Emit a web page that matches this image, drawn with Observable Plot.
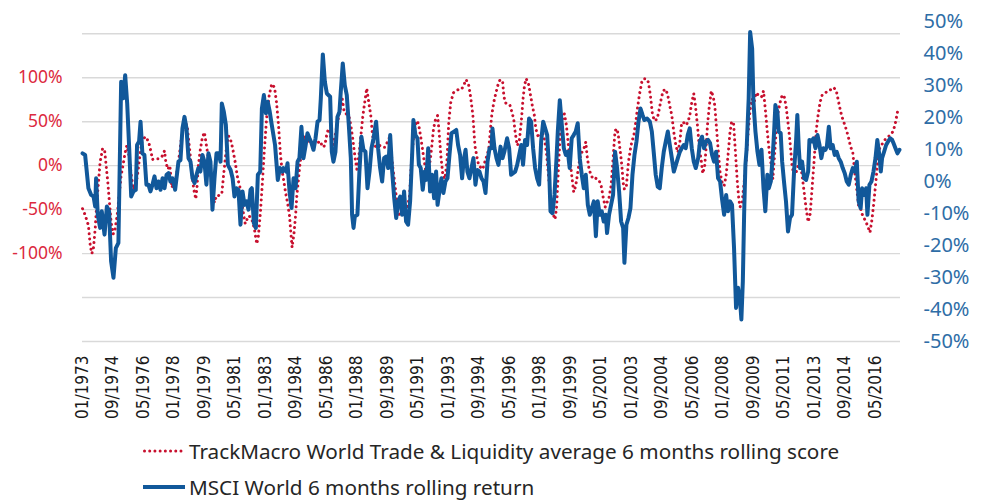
<!DOCTYPE html>
<html><head><meta charset="utf-8">
<script src="https://cdn.jsdelivr.net/npm/d3@7"></script>
<script src="https://cdn.jsdelivr.net/npm/@observablehq/plot@0.6"></script>
<style>
html,body{margin:0;padding:0;background:#fff;}
#wrap{position:relative;width:989px;height:502px;overflow:hidden;}
#wrap > svg{position:absolute;left:0;top:0;}
.legend{position:absolute;left:143px;font-family:"Noto Sans",sans-serif;font-size:20.7px;color:#262626;display:flex;align-items:center;height:30px;white-space:nowrap;}
.legend svg{margin-right:4px;}
</style></head><body><div id="wrap"></div><script>
// x tick labels
const xTickLabels = ["01/1973","09/1974","05/1976","01/1978","09/1979","05/1981","01/1983","09/1984","05/1986","01/1988","09/1989","05/1991","01/1993","09/1994","05/1996","01/1998","09/1999","05/2001","01/2003","09/2004","05/2006","01/2008","09/2009","05/2011","01/2013","09/2014","05/2016"];
const leftTicks = [-100, -50, 0, 50, 100];
const leftGrid = [-200, -150, -100, -50, 0, 50, 100, 150];
const rightTicks = [-50, -40, -30, -20, -10, 0, 10, 20, 30, 40, 50];
const seriesNames = ["TrackMacro World Trade & Liquidity average 6 months rolling score", "MSCI World 6 months rolling return"];

// TrackMacro score (left axis, %), [decimal year, value]
const trackScore = [
[1973.02,-49],[1973.16,-56],[1973.34,-68],[1973.44,-91],[1973.53,-100],[1973.62,-93],[1973.71,-72],[1973.80,-42],[1973.89,-19],[1973.98,4],[1974.11,19],[1974.22,19],[1974.29,4],[1974.40,-19],[1974.49,-42],[1974.58,-64],[1974.69,-78],[1974.80,-72],[1974.91,-57],[1975.02,-34],[1975.13,-11],[1975.26,4],[1975.35,15],[1975.44,23],[1975.53,15],[1975.62,0],[1975.71,-15],[1975.80,-27],[1975.93,-23],[1976.04,-8],[1976.15,11],[1976.26,27],[1976.44,33],[1976.62,28],[1976.77,15],[1976.84,7],[1976.99,8],[1977.17,8],[1977.35,10],[1977.50,17],[1977.57,4],[1977.68,-4],[1977.79,0],[1977.90,-25],[1978.01,-19],[1978.12,-15],[1978.26,4],[1978.35,19],[1978.44,34],[1978.59,49],[1978.74,46],[1978.81,30],[1978.89,15],[1978.99,-8],[1979.10,-27],[1979.21,-38],[1979.28,-23],[1979.35,0],[1979.46,19],[1979.57,32],[1979.68,38],[1979.79,23],[1979.90,8],[1980.01,-8],[1980.12,-30],[1980.23,-42],[1980.34,-34],[1980.45,-34],[1980.63,-32],[1980.74,-8],[1980.82,8],[1980.90,23],[1980.99,34],[1981.10,30],[1981.21,21],[1981.36,4],[1981.50,-15],[1981.61,-23],[1981.72,-42],[1981.83,-57],[1981.91,-66],[1982.01,-61],[1982.12,-57],[1982.27,-61],[1982.41,-72],[1982.54,-89],[1982.63,-80],[1982.74,-53],[1982.85,-19],[1982.96,19],[1983.09,57],[1983.22,80],[1983.36,93],[1983.51,89],[1983.62,72],[1983.73,46],[1983.84,11],[1983.94,-8],
[1984.00,-15],[1984.11,-30],[1984.22,-42],[1984.33,-57],[1984.40,-76],[1984.47,-93],[1984.58,-76],[1984.66,-57],[1984.73,-34],[1984.82,-15],[1984.91,4],[1985.02,19],[1985.13,34],[1985.24,30],[1985.38,25],[1985.53,27],[1985.68,23],[1985.82,25],[1986.00,28],[1986.15,21],[1986.26,23],[1986.37,36],[1986.46,42],[1986.59,32],[1986.70,23],[1986.82,34],[1986.95,49],[1987.10,64],[1987.21,76],[1987.32,61],[1987.42,59],[1987.57,57],[1987.68,46],[1987.79,30],[1987.90,11],[1988.01,-4],[1988.12,11],[1988.23,34],[1988.34,57],[1988.44,72],[1988.55,88],[1988.66,72],[1988.77,57],[1988.85,38],[1988.95,23],[1989.10,21],[1989.25,23],[1989.39,21],[1989.54,21],[1989.68,27],[1989.79,32],[1989.90,11],[1990.01,-8],[1990.12,-27],[1990.23,-49],[1990.34,-57],[1990.45,-53],[1990.56,-49],[1990.67,-46],[1990.78,-47],[1990.89,-34],[1990.99,4],[1991.10,30],[1991.21,47],[1991.32,51],[1991.43,42],[1991.54,27],[1991.65,11],[1991.76,-4],[1991.87,-8],[1991.98,0],[1992.09,19],[1992.20,42],[1992.31,53],[1992.42,57],[1992.49,42],[1992.60,11],[1992.71,-11],[1992.82,-15],[1992.93,4],[1993.03,49],[1993.14,72],[1993.29,83],[1993.44,85],[1993.58,87],[1993.73,87],[1993.84,91],[1993.98,98],[1994.13,91],[1994.24,76],[1994.35,57],[1994.46,23],[1994.56,11],[1994.67,0],[1994.78,-2],[1994.89,-4],[1995.00,4],[1995.11,11],[1995.22,19],[1995.33,46],
[1995.38,57],[1995.49,72],[1995.60,82],[1995.71,91],[1995.82,97],[1995.97,97],[1996.04,80],[1996.11,72],[1996.22,70],[1996.37,69],[1996.48,61],[1996.58,53],[1996.66,38],[1996.77,23],[1996.88,27],[1996.99,49],[1997.09,76],[1997.17,91],[1997.26,99],[1997.39,93],[1997.50,80],[1997.60,68],[1997.71,57],[1997.79,42],[1997.90,34],[1998.01,32],[1998.15,38],[1998.26,30],[1998.37,15],[1998.48,-11],[1998.59,-34],[1998.66,-53],[1998.77,-57],[1998.84,-61],[1998.93,-46],[1998.99,-19],[1999.06,11],[1999.13,38],[1999.24,53],[1999.35,59],[1999.46,46],[1999.57,23],[1999.68,4],[1999.75,-11],[1999.86,-30],[1999.97,-23],[2000.08,-8],[2000.19,8],[2000.30,15],[2000.41,19],[2000.52,27],[2000.59,11],[2000.70,-4],[2000.81,-11],[2000.92,-15],[2001.03,-14],[2001.14,-15],[2001.25,-17],[2001.36,-23],[2001.47,-36],[2001.58,-47],[2001.68,-42],[2001.79,-36],[2001.90,-23],[2002.01,8],[2002.12,40],[2002.23,42],[2002.30,34],[2002.41,15],[2002.49,0],[2002.56,-19],[2002.63,-27],[2002.74,-23],[2002.85,4],[2002.96,19],[2003.03,27],[2003.14,34],[2003.25,49],[2003.36,68],[2003.47,83],[2003.58,95],[2003.69,99],[2003.83,99],[2003.94,95],[2004.05,80],[2004.16,59],[2004.27,51],[2004.42,53],[2004.53,64],[2004.64,76],[2004.74,85],[2004.89,87],[2005.00,80],[2005.11,68],[2005.22,57],[2005.33,38],[2005.44,23],[2005.55,15],[2005.66,27],[2005.76,49],[2005.87,49],[2005.98,46],[2006.09,49],[2006.20,57],[2006.31,72],[2006.42,82],
[2006.51,68],[2006.62,46],[2006.73,19],[2006.84,4],[2006.91,-9],[2007.02,0],[2007.09,19],[2007.17,46],[2007.27,68],[2007.38,85],[2007.49,78],[2007.57,68],[2007.68,38],[2007.78,11],[2007.86,-8],[2007.97,-19],[2008.08,-23],[2008.19,-11],[2008.29,11],[2008.40,38],[2008.48,49],[2008.59,50],[2008.66,27],[2008.73,4],[2008.80,-19],[2008.88,-38],[2008.95,-47],[2009.06,-42],[2009.17,-19],[2009.28,4],[2009.39,38],[2009.50,64],[2009.61,76],[2009.72,72],[2009.82,83],[2009.97,80],[2010.12,78],[2010.23,85],[2010.33,64],[2010.44,38],[2010.55,15],[2010.66,0],[2010.74,-15],[2010.81,4],[2010.92,38],[2011.03,61],[2011.14,72],[2011.25,80],[2011.35,80],[2011.46,68],[2011.57,49],[2011.68,27],[2011.79,0],[2011.90,-11],[2012.01,-8],[2012.12,0],[2012.23,4],[2012.34,-11],[2012.45,-30],[2012.56,-49],[2012.67,-64],[2012.78,-55],[2012.88,-27],[2012.99,4],[2013.10,38],[2013.21,57],[2013.32,72],[2013.43,80],[2013.58,82],[2013.72,85],[2013.87,86],[2014.05,89],[2014.20,86],[2014.34,72],[2014.45,61],[2014.56,53],[2014.71,44],[2014.85,34],[2015.00,21],[2015.11,15],[2015.22,-8],[2015.33,-27],[2015.43,-46],[2015.54,-49],[2015.65,-57],[2015.76,-61],[2015.87,-66],[2015.98,-72],[2016.05,-76],[2016.16,-61],[2016.24,-46],[2016.35,-23],[2016.45,0],[2016.56,19],[2016.67,23],[2016.78,27],[2016.89,30],[2016.99,32],[2017.11,34],[2017.22,36],[2017.33,40],[2017.44,49],[2017.55,61]
];

// MSCI World 6m rolling return (right axis, %), [decimal year, value]
const msciReturn = [
[1973.02,8.8],[1973.16,8.3],[1973.34,-2.1],[1973.49,-4.2],[1973.62,-4.7],[1973.71,-7.8],[1973.76,1.0],[1973.85,-10.4],[1973.98,-14.5],[1974.07,-9.3],[1974.22,-16.6],[1974.35,-7.8],[1974.47,-9.3],[1974.58,-24.9],[1974.71,-30.1],[1974.84,-20.8],[1974.98,-19.2],[1975.13,31.2],[1975.24,26.0],[1975.35,33.2],[1975.46,24.4],[1975.57,10.4],[1975.68,-4.7],[1975.80,-3.1],[1975.93,-2.6],[1976.00,11.4],[1976.11,12.5],[1976.19,18.7],[1976.29,8.8],[1976.40,8.3],[1976.51,-1.0],[1976.62,-1.0],[1976.73,-3.1],[1976.84,-1.0],[1976.95,1.6],[1977.06,-2.1],[1977.17,0],[1977.28,-2.6],[1977.39,1.0],[1977.50,-2.1],[1977.61,2.1],[1977.72,2.6],[1977.82,0],[1977.93,1.0],[1978.08,-2.6],[1978.26,6.2],[1978.37,6.7],[1978.48,16.6],[1978.59,20.2],[1978.70,16.6],[1978.81,7.3],[1978.92,6.2],[1979.03,1.0],[1979.14,-0.5],[1979.25,2.1],[1979.35,4.2],[1979.46,3.1],[1979.57,8.3],[1979.68,6.2],[1979.79,-1.0],[1979.90,8.8],[1980.01,6.2],[1980.12,-8.8],[1980.23,1.0],[1980.34,8.8],[1980.45,8.8],[1980.56,6.2],[1980.63,24.4],[1980.74,21.8],[1980.85,17.7],[1980.96,5.2],[1981.11,3.6],[1981.22,1.0],[1981.32,-4.7],[1981.43,-2.1],[1981.54,-2.6],[1981.65,-13.5],[1981.76,-3.1],[1981.87,-7.3],[1981.98,-6.2],[1982.09,-8.8],[1982.20,-2.6],[1982.27,-2.1],[1982.38,-13.0],[1982.49,-14.5],[1982.60,2.1],[1982.73,3.1],[1982.82,22.8],[1982.93,27.0],[1983.04,21.3],[1983.14,24.9],[1983.25,21.8],[1983.36,17.7],[1983.54,11.4],[1983.69,0.5],[1983.80,4.2],[1983.94,3.1],
[1984.00,4.2],[1984.15,3.1],[1984.22,5.7],[1984.33,-3.1],[1984.44,-8.3],[1984.55,1.0],[1984.66,-2.1],[1984.77,6.2],[1984.87,7.3],[1984.98,17.1],[1985.09,7.3],[1985.20,11.0],[1985.31,15.1],[1985.42,13.5],[1985.53,12.0],[1985.64,9.9],[1985.75,13.5],[1985.86,18.7],[1985.97,19.2],[1986.04,26.0],[1986.15,39.7],[1986.26,31.2],[1986.37,27.5],[1986.55,26.5],[1986.64,9.3],[1986.73,6.2],[1986.84,9.3],[1986.95,20.2],[1987.06,21.8],[1987.13,28.0],[1987.24,36.9],[1987.35,30.1],[1987.46,27.0],[1987.57,17.7],[1987.68,7.3],[1987.75,-10.4],[1987.83,-14.5],[1987.90,-10.9],[1988.04,-10.4],[1988.15,3.1],[1988.26,14.0],[1988.37,9.9],[1988.48,9.3],[1988.59,-2.1],[1988.70,3.1],[1988.81,10.4],[1988.92,13.5],[1989.06,18.7],[1989.17,10.4],[1989.28,4.2],[1989.39,0],[1989.50,7.3],[1989.61,7.8],[1989.72,4.2],[1989.83,14.5],[1989.94,3.1],[1990.05,-5.2],[1990.16,-11.4],[1990.27,-6.2],[1990.38,-4.7],[1990.48,-10.4],[1990.59,-3.1],[1990.70,-12.5],[1990.81,-13.5],[1990.92,-6.2],[1991.03,8.3],[1991.10,19.2],[1991.21,14.5],[1991.32,13.5],[1991.40,5.2],[1991.50,4.2],[1991.61,-2.6],[1991.72,3.1],[1991.80,0.5],[1991.91,10.4],[1992.01,-3.1],[1992.12,2.1],[1992.23,-5.2],[1992.34,3.1],[1992.42,-7.3],[1992.52,-3.1],[1992.63,1.0],[1992.74,-3.6],[1992.85,0],[1992.96,1.0],[1993.07,8.3],[1993.18,15.1],[1993.33,15.6],[1993.44,16.1],[1993.54,11.4],[1993.65,8.3],[1993.76,1.0],[1993.84,6.2],[1993.95,9.9],[1994.05,3.1],[1994.16,1.0],[1994.27,4.2],[1994.38,7.3],[1994.49,-1.0],[1994.60,3.6],[1994.71,3.1],[1994.82,1.0],[1994.93,0],[1995.04,-3.6],[1995.15,6.2],[1995.26,10.4],[1995.37,10.4],
[1995.42,16.6],[1995.53,10.4],[1995.64,7.3],[1995.75,5.2],[1995.86,10.9],[1995.97,7.3],[1996.07,9.3],[1996.22,13.5],[1996.33,10.4],[1996.44,2.1],[1996.55,2.6],[1996.66,3.1],[1996.77,5.2],[1996.88,8.3],[1996.99,11.4],[1997.09,5.2],[1997.20,13.0],[1997.31,11.4],[1997.42,19.7],[1997.53,18.7],[1997.64,10.4],[1997.75,4.2],[1997.86,1.0],[1997.97,-1.0],[1998.08,12.5],[1998.19,18.7],[1998.30,16.6],[1998.41,14.5],[1998.52,3.1],[1998.59,-9.3],[1998.70,-9.9],[1998.81,-4.2],[1998.92,7.3],[1998.99,15.6],[1999.10,25.4],[1999.21,17.7],[1999.32,10.4],[1999.43,8.3],[1999.54,9.3],[1999.64,4.2],[1999.75,13.5],[1999.86,14.5],[1999.97,15.6],[2000.08,18.2],[2000.19,7.3],[2000.30,2.1],[2000.41,-2.1],[2000.52,2.1],[2000.63,-7.3],[2000.74,-10.4],[2000.85,-8.3],[2000.96,-6.2],[2001.07,-17.1],[2001.17,-6.2],[2001.28,-10.4],[2001.39,-9.3],[2001.50,-12.5],[2001.61,-10.4],[2001.68,-16.1],[2001.79,-10.4],[2001.90,-7.3],[2002.01,-4.2],[2002.12,9.3],[2002.23,4.2],[2002.34,-3.1],[2002.45,-12.5],[2002.56,-14.5],[2002.63,-25.4],[2002.74,-13.5],[2002.85,-11.4],[2002.96,-8.3],[2003.07,2.1],[2003.18,8.3],[2003.29,12.5],[2003.40,18.7],[2003.51,22.8],[2003.62,20.8],[2003.72,19.2],[2003.87,19.7],[2004.02,18.7],[2004.13,15.6],[2004.23,9.3],[2004.34,2.1],[2004.45,-1.6],[2004.56,-2.1],[2004.67,4.2],[2004.78,9.3],[2004.89,12.5],[2005.00,15.6],[2005.11,11.4],[2005.22,7.3],[2005.33,3.1],[2005.44,5.2],[2005.55,7.3],[2005.66,9.3],[2005.76,10.4],[2005.87,11.4],[2005.98,10.4],[2006.09,14.5],[2006.20,16.6],[2006.31,10.4],[2006.42,6.2],[2006.53,4.2],
[2006.66,7.3],[2006.76,12.5],[2006.87,14.0],[2006.98,10.4],[2007.09,12.5],[2007.20,13.0],[2007.31,12.0],[2007.42,8.3],[2007.53,6.2],[2007.64,9.3],[2007.75,1.0],[2007.86,0],[2007.97,-5.7],[2008.08,-10.4],[2008.19,-4.2],[2008.29,-9.3],[2008.40,-6.2],[2008.51,-7.3],[2008.62,-20.8],[2008.73,-39.5],[2008.84,-33.2],[2008.95,-37.4],[2009.02,-43.1],[2009.10,-31.2],[2009.17,-10.4],[2009.24,5.2],[2009.31,10.4],[2009.42,26.0],[2009.50,46.7],[2009.61,41.5],[2009.68,24.9],[2009.79,15.6],[2009.90,9.3],[2010.01,5.2],[2010.12,9.9],[2010.23,-2.1],[2010.33,-9.3],[2010.44,2.1],[2010.52,-2.1],[2010.63,0],[2010.74,8.3],[2010.81,15.6],[2010.88,23.9],[2010.99,21.8],[2011.06,15.6],[2011.17,15.1],[2011.25,6.2],[2011.35,0],[2011.46,-6.2],[2011.57,-15.6],[2011.68,-11.4],[2011.79,-10.4],[2011.90,3.1],[2012.01,12.5],[2012.08,20.8],[2012.16,10.4],[2012.23,4.2],[2012.34,6.2],[2012.45,1.0],[2012.56,0.5],[2012.67,3.1],[2012.74,13.0],[2012.85,12.5],[2012.96,13.5],[2013.07,10.4],[2013.18,14.5],[2013.29,11.4],[2013.39,7.3],[2013.50,10.4],[2013.61,9.9],[2013.69,10.9],[2013.80,17.1],[2013.90,10.4],[2014.01,11.4],[2014.12,8.3],[2014.23,9.3],[2014.34,7.3],[2014.45,6.2],[2014.56,4.2],[2014.67,2.6],[2014.78,0],[2014.89,-1.0],[2015.00,2.1],[2015.11,4.2],[2015.22,3.1],[2015.33,6.2],[2015.43,-6.2],[2015.54,-8.3],[2015.62,-2.1],[2015.73,-4.2],[2015.84,-2.1],[2015.91,-10.4],[2016.02,-1.0],[2016.13,0],[2016.24,3.1],[2016.35,7.3],[2016.45,13.0],[2016.56,8.3],[2016.64,3.1],[2016.71,7.3],[2016.82,9.3],[2016.93,11.4],[2017.04,12.5],[2017.15,13.5],[2017.26,13.0],[2017.33,12.0],[2017.44,10.4],[2017.55,8.8],[2017.66,9.9]
];

const RED = "#c8102e", RED_TXT = "#dc2a40", BLUE = "#11589a", BLUE_TXT = "#2e6da6";
const toDate = y => { const yr = Math.floor(y); const a = Date.UTC(yr,0,1), b = Date.UTC(yr+1,0,1); return new Date(a + (y-yr)*(b-a)); };
const parseTick = d3.utcParse("%m/%Y");
const xTicks = xTickLabels.map(parseTick);
const xDomain = [new Date(Date.UTC(1973,0,1)), toDate(2017.716)];
const W = 989, H = 430;
const common = {width: W, height: H, marginLeft: 82, marginRight: 89, marginTop: 21, marginBottom: H - 341,
  style: {background: "transparent", overflow: "visible", fontFamily: "'Noto Sans', sans-serif"}};

const left = Plot.plot({
  ...common,
  x: {type: "utc", domain: xDomain, range: [81.7, 900]},
  y: {domain: [-200, 150], range: [341, 33.3]},
  marks: [
    Plot.gridY(leftGrid, {stroke: "#d9d9d9", strokeOpacity: 1, strokeWidth: 1.4}),
    Plot.axisY(leftTicks, {tickSize: 0, tickPadding: 20, tickFormat: d => d + "%", color: RED_TXT, fontSize: 17.5, label: null}),
    Plot.axisX(xTicks, {tickSize: 0, tickPadding: 14, tickRotate: -90, tickFormat: d3.utcFormat("%m/%Y"), color: "#1a1a1a",
      fontSize: 17, fontFamily: "'DejaVu Sans Condensed', 'DejaVu Sans', sans-serif", label: null}),
    Plot.line(trackScore, {x: d => toDate(d[0]), y: d => d[1], stroke: RED, strokeWidth: 3, strokeDasharray: "0.01 5.2", strokeLinecap: "round"})
  ]
});
const right = Plot.plot({
  ...common,
  x: {type: "utc", domain: xDomain, range: [81.7, 900], axis: null},
  y: {domain: [-50, 50], range: [341, 21]},
  marks: [
    Plot.axisY(rightTicks, {anchor: "right", tickSize: 0, tickPadding: 23, tickFormat: d => d + "%", color: BLUE_TXT, fontSize: 20, label: null}),
    Plot.line(msciReturn, {x: d => toDate(d[0]), y: d => d[1], stroke: BLUE, strokeWidth: 4, strokeLinejoin: "round"})
  ]
});
const wrap = document.getElementById("wrap");
wrap.appendChild(left);
wrap.appendChild(right);

function legendRow(top, name, dotted, color) {
  const row = document.createElement("div");
  row.className = "legend";
  row.style.top = top + "px";
  const ns = "http://www.w3.org/2000/svg";
  const s = document.createElementNS(ns, "svg");
  s.setAttribute("width", 42); s.setAttribute("height", 10);
  const l = document.createElementNS(ns, "line");
  l.setAttribute("x1", dotted ? 1.5 : 0); l.setAttribute("x2", dotted ? 41 : 42);
  l.setAttribute("y1", 5); l.setAttribute("y2", 5);
  l.setAttribute("stroke", color);
  l.setAttribute("stroke-width", dotted ? 3 : 4);
  if (dotted) { l.setAttribute("stroke-dasharray", "0.01 5.2"); l.setAttribute("stroke-linecap", "round"); }
  s.appendChild(l);
  row.appendChild(s);
  const t = document.createElement("span");
  t.textContent = name;
  row.appendChild(t);
  wrap.appendChild(row);
}
legendRow(436, seriesNames[0], true, RED);
legendRow(472, seriesNames[1], false, BLUE);
</script></body></html>
